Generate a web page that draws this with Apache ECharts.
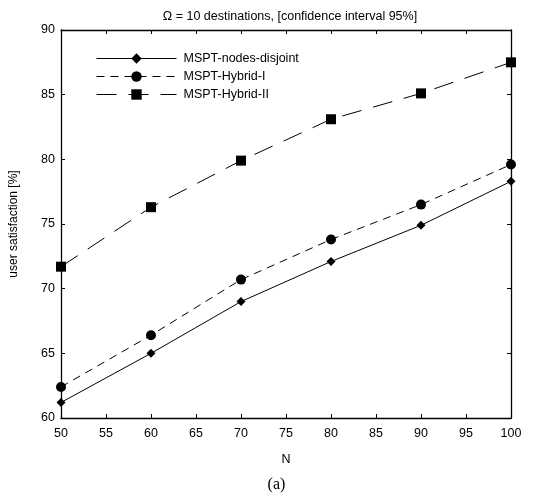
<!DOCTYPE html>
<html><head><meta charset="utf-8">
<script src="https://cdn.jsdelivr.net/npm/echarts@6/dist/echarts.min.js"></script>
<style>html,body{margin:0;padding:0;background:#fff}#c{width:553px;height:496px}</style>
</head><body><div id="c"></div>
<script>
const xValues = [50, 60, 70, 80, 90, 100];
const nodesDisjoint = [61.2, 65.0, 69.0, 72.1, 74.9, 78.3];
const hybridI = [62.4, 66.4, 70.7, 73.8, 76.5, 79.6];
const hybridII = [71.7, 76.3, 79.9, 83.1, 85.1, 87.5];
const seriesNames = ['MSPT-nodes-disjoint', 'MSPT-Hybrid-I', 'MSPT-Hybrid-II'];
const titleText = 'Ω = 10 destinations, [confidence interval 95%]';

const font = 'Liberation Sans, Arial, sans-serif';
const pair = arr => xValues.map((x, i) => [x, arr[i]]);
const axisCommon = {
  axisLine: {show: true, lineStyle: {color: '#000', width: 1.3}},
  axisTick: {show: true, inside: true, length: 4, lineStyle: {color: '#000'}},
  splitLine: {show: false}
};
const chart = echarts.init(document.getElementById('c'), null, {renderer: 'canvas'});
chart.setOption({
  animation: false,
  backgroundColor: '#fff',
  title: {text: titleText, left: 285, textAlign: 'center', top: 5,
    textStyle: {fontFamily: font, fontSize: 12.5, fontWeight: 'normal', color: '#000'}},
  grid: {left: 59, right: 42, top: 30, bottom: 78},
  legend: {
    orient: 'vertical', left: 91, top: 47, itemWidth: 80, itemHeight: 13, itemGap: 5,
    data: seriesNames,
    lineStyle: {width: 1},
    textStyle: {fontFamily: font, fontSize: 12.5, color: '#000', padding: [0, 0, 0, 2]}
  },
  xAxis: [
    Object.assign({type: 'value', min: 50, max: 100, interval: 5, position: 'bottom',
      name: 'N', nameLocation: 'middle', nameGap: 35,
      nameTextStyle: {fontFamily: font, fontSize: 12.5, color: '#000'},
      axisLabel: {fontFamily: font, fontSize: 12.5, color: '#000', margin: 9}}, axisCommon),
    Object.assign({type: 'value', min: 50, max: 100, interval: 5, position: 'top',
      axisLabel: {show: false}}, axisCommon)
  ],
  yAxis: [
    Object.assign({type: 'value', min: 60, max: 90, interval: 5, position: 'left',
      name: 'user satisfaction [%]', nameLocation: 'middle', nameGap: 41,
      nameTextStyle: {fontFamily: font, fontSize: 12, color: '#000'},
      axisLabel: {fontFamily: font, fontSize: 12.5, color: '#000', margin: 6}}, axisCommon),
    Object.assign({type: 'value', min: 60, max: 90, interval: 5, position: 'right',
      axisLabel: {show: false}}, axisCommon)
  ],
  series: [
    {name: seriesNames[0], type: 'line', data: pair(nodesDisjoint), symbol: 'diamond', symbolSize: 9,
      lineStyle: {color: '#000', width: 1, type: 'solid'}, itemStyle: {color: '#000'}},
    {name: seriesNames[1], type: 'line', data: pair(hybridI), symbol: 'circle', symbolSize: 10,
      lineStyle: {color: '#000', width: 1, type: [8, 6]}, itemStyle: {color: '#000'}},
    {name: seriesNames[2], type: 'line', data: pair(hybridII), symbol: 'rect', symbolSize: 10,
      lineStyle: {color: '#000', width: 1, type: [20, 12]}, itemStyle: {color: '#000'}}
  ],
  graphic: [{type: 'text', left: 'center', top: 477,
    style: {text: '(a)', font: '16px "Liberation Serif", "Times New Roman", serif', fill: '#000'}}]
});
</script></body></html>
